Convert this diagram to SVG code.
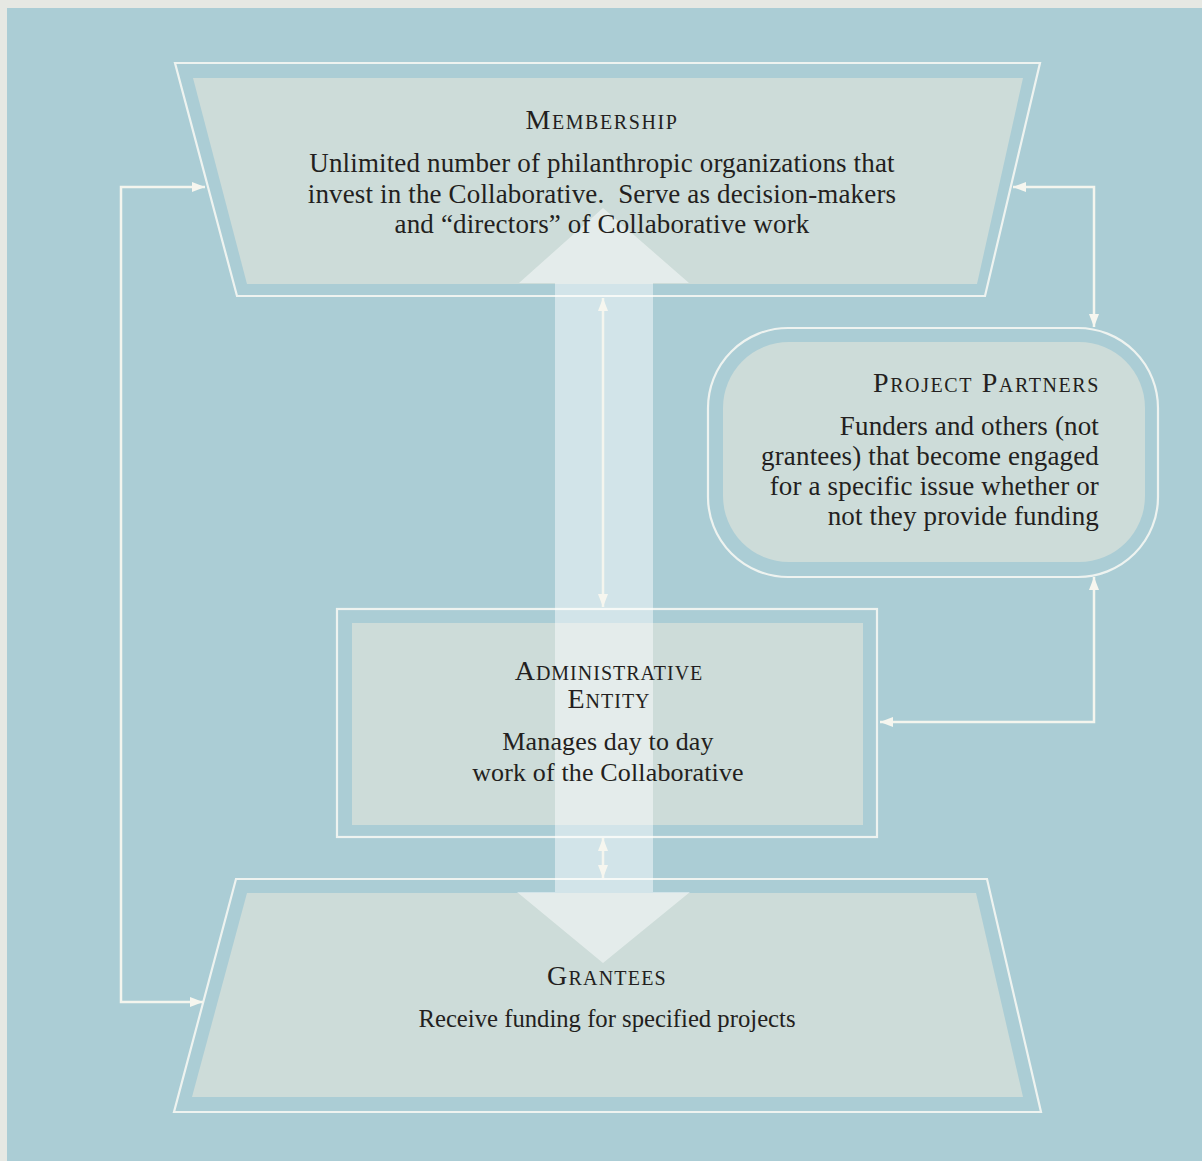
<svg xmlns="http://www.w3.org/2000/svg" width="1202" height="1161" viewBox="0 0 1202 1161">
<style>
.outline{fill:none;stroke:#eef3f0;stroke-width:2.2}
.fill{fill:#cddcd9}
.conn{fill:none;stroke:#f4f5ee;stroke-width:2.5}
.title{font-family:"Liberation Serif",serif;font-size:28px;letter-spacing:1.6px;font-variant:small-caps;fill:#231f20}
.body{font-family:"Liberation Serif",serif;font-size:27px;letter-spacing:0.15px;fill:#231f20}
.big{fill:#ffffff;fill-opacity:0.47}
</style>
<defs>
<marker id="ah" viewBox="0 0 13 10" refX="13" refY="5" markerWidth="13" markerHeight="10" markerUnits="userSpaceOnUse" orient="auto-start-reverse">
<path d="M0,0 L13,5 L0,10 z" fill="#f6f6ef"/>
</marker>
</defs>
<rect x="0" y="0" width="1202" height="1161" fill="#e6e8e3"/>
<rect x="7" y="8" width="1195" height="1153" fill="#abcdd5"/>

<g id="membership">
<polygon class="outline" points="175,63 1040,63 985,296 237,296"/>
<polygon class="fill" points="193,78 1023,78 977,284 247,284"/>
</g>
<g id="project-partners">
<rect class="outline" x="708" y="328" width="450" height="249" rx="80" ry="80"/>
<rect class="fill" x="723" y="342" width="422" height="220" rx="66" ry="66"/>
</g>
<g id="administrative-entity">
<rect class="outline" x="337" y="609" width="540" height="228"/>
<rect class="fill" x="352" y="623" width="511" height="202"/>
</g>
<g id="grantees">
<polygon class="outline" points="236,879 987,879 1041,1112 174,1112"/>
<polygon class="fill" points="247,893 976,893 1023,1097 192,1097"/>
</g>

<g id="flow-arrow">
<polygon class="big" points="603,208 689,283 653,283 653,892 690,892 603,963 517,892 555,892 555,283 519,283"/>
</g>

<g id="connectors">
<path class="conn" d="M205,187 H121 V1002 H203" marker-start="url(#ah)" marker-end="url(#ah)"/>
<path class="conn" d="M1013,187 H1094 V327" marker-start="url(#ah)" marker-end="url(#ah)"/>
<path class="conn" d="M1094,577 V722 H880" marker-start="url(#ah)" marker-end="url(#ah)"/>
<path class="conn" d="M603,298 V607" marker-start="url(#ah)" marker-end="url(#ah)"/>
<path class="conn" d="M603,838 V878" marker-start="url(#ah)" marker-end="url(#ah)"/>
</g>

<g id="membership-label" text-anchor="middle">
<text class="title" x="602" y="129">Membership</text>
<text class="body" x="602" y="172">Unlimited number of philanthropic organizations that</text>
<text class="body" x="602" y="203" xml:space="preserve">invest in the Collaborative.  Serve as decision-makers</text>
<text class="body" x="602" y="233">and “directors” of Collaborative work</text>
</g>
<g id="project-partners-label" text-anchor="end">
<text class="title" x="1100" y="392">Project Partners</text>
<text class="body" x="1099" y="435">Funders and others (not</text>
<text class="body" x="1099" y="465">grantees) that become engaged</text>
<text class="body" x="1099" y="495">for a specific issue whether or</text>
<text class="body" x="1099" y="525">not they provide funding</text>
</g>
<g id="administrative-entity-label" text-anchor="middle">
<text class="title" x="609" y="680" style="letter-spacing:1px">Administrative</text>
<text class="title" x="609" y="708" style="letter-spacing:1px">Entity</text>
<text class="body" x="608" y="750" style="font-size:26px">Manages day to day</text>
<text class="body" x="608" y="781" style="font-size:26px">work of the Collaborative</text>
</g>
<g id="grantees-label" text-anchor="middle">
<text class="title" x="607" y="985" style="letter-spacing:1.2px">Grantees</text>
<text class="body" x="607" y="1027" style="font-size:24.7px;letter-spacing:0">Receive funding for specified projects</text>
</g>
</svg>
